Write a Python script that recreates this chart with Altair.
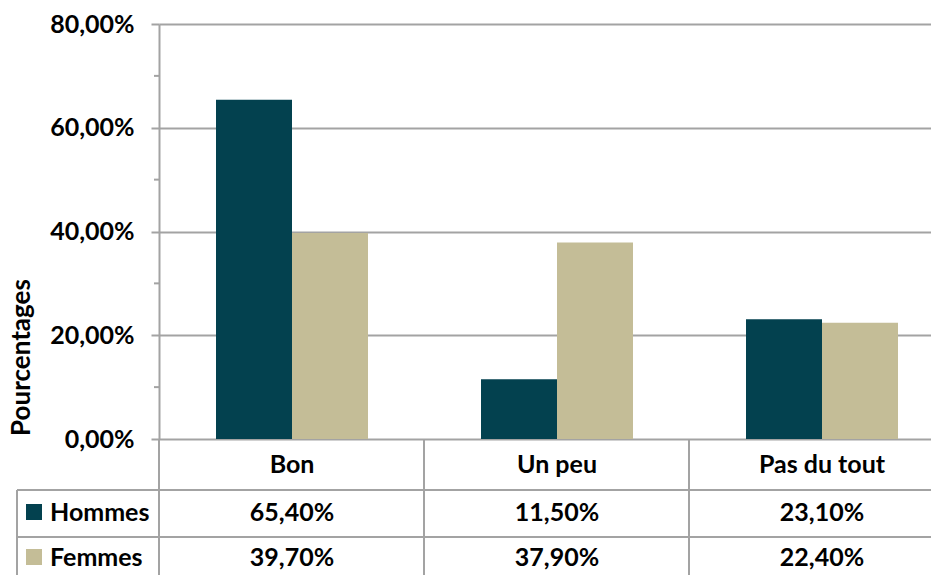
import altair as alt
import pandas as pd

categories = ["Bon", "Un peu", "Pas du tout"]
series = ["Hommes", "Femmes"]
hommes = [0.654, 0.115, 0.231]
femmes = [0.397, 0.379, 0.224]
colors = ["#03414F", "#C4BD97"]
y_ticks = [0, 0.2, 0.4, 0.6, 0.8]
minor_ticks = [0.1, 0.3, 0.5, 0.7]

rows = []
for s, vals in zip(series, [hommes, femmes]):
    for c, v in zip(categories, vals):
        rows.append({"cat": c, "series": s, "value": v})
df = pd.DataFrame(rows)

FONT = "Lato"
FS = 25
GRAY = "#A3A3A3"
W, H = 772, 415
BOTTOM = 136
STEP = 265.0
PI = 113.0 / STEP
TOTAL_W = 780.0
PO = (TOTAL_W / STEP - 3 + PI) / 2
ALIGN = 57.0 / (TOTAL_W - STEP * (3 - PI))

x_scale = alt.Scale(domain=categories, paddingInner=PI, paddingOuter=PO, align=ALIGN,
                    range=[0, TOTAL_W])
x_enc = alt.X("cat:N", scale=x_scale, sort=categories, axis=None)
y_scale = alt.Scale(domain=[0, 0.8], nice=False)

bars = alt.Chart(df).mark_bar().encode(
    x=x_enc,
    xOffset=alt.XOffset("series:N", sort=series, scale=alt.Scale(paddingInner=0, paddingOuter=0)),
    y=alt.Y(
        "value:Q",
        scale=y_scale,
        axis=alt.Axis(
            values=y_ticks,
            labelExpr="replace(format(datum.value, '.2%'), '.', ',')",
            title="Pourcentages",
            titleX=-138,
            titleY=333,
            titleAngle=-90,
            titleAlign="center",
            titleBaseline="middle",
            grid=True,
        ),
    ),
    color=alt.Color("series:N", scale=alt.Scale(domain=series, range=colors), legend=None),
)

minor = alt.Chart(pd.DataFrame({"value": minor_ticks})).mark_rule(color=GRAY, strokeWidth=2).encode(
    y=alt.Y("value:Q", scale=y_scale),
    x=alt.value(-5),
    x2=alt.value(0),
)

layers = [bars, minor]


def hline(y, x1, x2):
    return alt.Chart(pd.DataFrame({"a": [0]})).mark_rule(color=GRAY, strokeWidth=2).encode(
        x=alt.value(x1), x2=alt.value(x2), y=alt.value(y)
    )


def vline(x, y1, y2):
    return alt.Chart(pd.DataFrame({"a": [0]})).mark_rule(color=GRAY, strokeWidth=2).encode(
        x=alt.value(x), y=alt.value(y1), y2=alt.value(y2)
    )


layers += [
    hline(466, -142, W + 10),
    hline(513, -142, W + 10),
    vline(0, H, H + BOTTOM),
    vline(265, H, H + BOTTOM),
    vline(530, H, H + BOTTOM),
    vline(-142, 466, H + BOTTOM),
]

text_props = dict(font=FONT, fontSize=FS, fontWeight="bold", baseline="middle", color="black")

cat_text = alt.Chart(pd.DataFrame({"cat": categories})).mark_text(**text_props).encode(
    x=x_enc, y=alt.value(441), text="cat:N"
)
layers.append(cat_text)

row_y = {"Hommes": 489, "Femmes": 534}
for s, c in zip(series, colors):
    vals = alt.Chart(df).transform_filter(alt.datum.series == s).transform_calculate(
        label="replace(format(datum.value, '.2%'), '.', ',')"
    ).mark_text(**text_props).encode(x=x_enc, y=alt.value(row_y[s]), text="label:N")
    key = alt.Chart(pd.DataFrame({"series": [s]})).mark_square(size=256, opacity=1, color=c).encode(
        x=alt.value(-125), y=alt.value(row_y[s] - 1)
    )
    name = alt.Chart(pd.DataFrame({"series": [s]})).mark_text(align="left", **text_props).encode(
        x=alt.value(-109), y=alt.value(row_y[s]), text="series:N"
    )
    layers += [vals, key, name]

chart = alt.layer(*layers).properties(
    width=W,
    height=H,
    autosize=alt.AutoSizeParams(type="none"),
    padding={"left": 151, "top": 16, "right": 0, "bottom": BOTTOM},
).configure_view(stroke=None).configure_axis(
    labelFont=FONT,
    labelFontSize=FS,
    labelFontWeight="bold",
    labelColor="black",
    labelPadding=17,
    titleFont=FONT,
    titleFontSize=26,
    titleFontWeight="bold",
    titleColor="black",
    domainColor=GRAY,
    domainWidth=2,
    tickColor=GRAY,
    tickWidth=2,
    tickSize=8,
    gridColor=GRAY,
    gridWidth=2,
)

chart.save("out.html", embed_options={"renderer": "svg", "actions": False})
